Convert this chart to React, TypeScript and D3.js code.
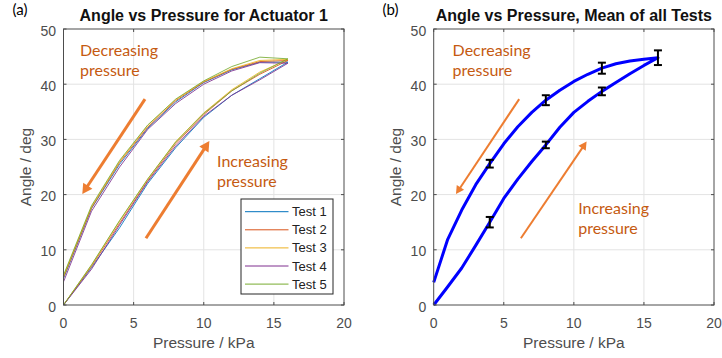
import React from 'react';
import * as d3 from 'd3';

// ---------- data ----------
const pressureSteps = [0, 2, 4, 6, 8, 10, 12, 14, 16];
const testNames = ['Test 1', 'Test 2', 'Test 3', 'Test 4', 'Test 5'];
const testColors = ['#0072BD', '#D95319', '#EDB120', '#7E2F8E', '#77AC30'];
// increasing pressure branch (0..16 kPa)
const test1Inc = [0, 6.8, 14.0, 22.0, 28.5, 34.0, 38.0, 41.0, 44.0];
const test2Inc = [0, 7.0, 14.8, 22.5, 29.2, 34.5, 38.8, 41.8, 44.3];
const test3Inc = [0, 7.2, 15.2, 22.8, 29.6, 34.8, 39.0, 42.2, 44.5];
const test4Inc = [0, 6.5, 14.5, 22.3, 28.8, 34.2, 38.0, 40.8, 43.8];
const test5Inc = [0, 7.3, 15.3, 22.8, 29.5, 34.7, 38.8, 42.0, 44.6];
// decreasing pressure branch (values at 0..14 kPa)
const test1Dec = [4.8, 17.5, 25.5, 32.0, 36.8, 40.3, 42.6, 44.0];
const test2Dec = [5.0, 17.6, 25.8, 32.2, 37.0, 40.4, 42.7, 44.1];
const test3Dec = [5.2, 17.8, 26.0, 32.5, 37.2, 40.5, 42.8, 44.3];
const test4Dec = [4.2, 17.0, 25.0, 31.8, 36.5, 40.0, 42.4, 43.9];
const test5Dec = [5.4, 18.0, 26.2, 32.6, 37.3, 40.6, 43.2, 44.9];

const meanPressure = [0, 1, 2, 3, 4, 5, 6, 7, 8, 9, 10, 11, 12, 13, 14, 15, 16];
const meanInc = [0, 3.3, 6.7, 10.8, 15.0, 19.3, 22.8, 26.0, 29.0, 32.2, 34.9, 36.9, 38.7, 40.3, 41.9, 43.4, 44.8];
const meanDec = [4.1, 11.9, 17.2, 21.8, 25.6, 29.2, 32.3, 34.9, 37.1, 38.9, 40.5, 41.8, 42.9, 43.7, 44.2, 44.5, 44.8];

const errIncPressure = [4, 8, 12, 16];
const errIncMean = [15.0, 29.0, 38.7, 44.8];
const errIncHalf = [0.95, 0.6, 0.7, 1.33];
const errDecPressure = [4, 8, 12];
const errDecMean = [25.6, 37.1, 42.9];
const errDecHalf = [0.7, 0.9, 1.0];

const xTicks = [0, 5, 10, 15, 20];
const yTicks = [0, 10, 20, 30, 40, 50];

const incTests = [test1Inc, test2Inc, test3Inc, test4Inc, test5Inc];
const decTests = [test1Dec, test2Dec, test3Dec, test4Dec, test5Dec];

const ORANGE = '#ED7D31';
const ORANGE_TEXT = '#C55A11';
const AX = '#4d4d4d';
const SANS = 'Liberation Sans, Arial, sans-serif';
const ANNOT = 'Lato, "Open Sans", sans-serif';

type Arrow = { x1: number; y1: number; x2: number; y2: number; w: number; head: number };

function ArrowMark({ a, x, y }: { a: Arrow; x: d3.ScaleLinear<number, number>; y: d3.ScaleLinear<number, number> }) {
  const X1 = x(a.x1), Y1 = y(a.y1), X2 = x(a.x2), Y2 = y(a.y2);
  const dx = X2 - X1, dy = Y2 - Y1;
  const L = Math.hypot(dx, dy);
  const ux = dx / L, uy = dy / L;
  const bx = X2 - ux * a.head, by = Y2 - uy * a.head;
  const hw = a.head * 0.55;
  const pts = [[X2, Y2], [bx - uy * hw, by + ux * hw], [bx + uy * hw, by - ux * hw]];
  return (
    <g>
      <line x1={X1} y1={Y1} x2={bx + ux * 1} y2={by + uy * 1} stroke={ORANGE} strokeWidth={a.w} />
      <polygon points={pts.map(p => p.join(',')).join(' ')} fill={ORANGE} />
    </g>
  );
}

function Panel(props: {
  left: number; right: number; top: number; bottom: number;
  title: string; tag: string; tagX: number;
  children: (x: d3.ScaleLinear<number, number>, y: d3.ScaleLinear<number, number>) => React.ReactNode;
}) {
  const { left, right, top, bottom } = props;
  const x = d3.scaleLinear().domain([0, 20]).range([left, right]);
  const y = d3.scaleLinear().domain([0, 50]).range([bottom, top]);
  const tl = 3;
  return (
    <g>
      <rect x={left} y={top} width={right - left} height={bottom - top} fill="#fff" />
      {xTicks.slice(1, -1).map(t => (
        <line key={'gx' + t} x1={x(t)} x2={x(t)} y1={top} y2={bottom} stroke="#e3e3e3" strokeWidth={1} />
      ))}
      {yTicks.slice(1, -1).map(t => (
        <line key={'gy' + t} x1={left} x2={right} y1={y(t)} y2={y(t)} stroke="#e3e3e3" strokeWidth={1} />
      ))}
      {props.children(x, y)}
      <rect x={left} y={top} width={right - left} height={bottom - top} fill="none" stroke={AX} strokeWidth={1} />
      {xTicks.map(t => (
        <g key={'tx' + t}>
          <line x1={x(t)} x2={x(t)} y1={bottom} y2={bottom - tl} stroke={AX} />
          <line x1={x(t)} x2={x(t)} y1={top} y2={top + tl} stroke={AX} />
          <text x={x(t)} y={bottom + 23} textAnchor="middle" fontSize={14} fill={AX} fontFamily={SANS}>{t}</text>
        </g>
      ))}
      {yTicks.map(t => (
        <g key={'ty' + t}>
          <line x1={left} x2={left + tl} y1={y(t)} y2={y(t)} stroke={AX} />
          <line x1={right} x2={right - tl} y1={y(t)} y2={y(t)} stroke={AX} />
          <text x={left - 7.5} y={y(t) + 6.5} textAnchor="end" fontSize={14} fill={AX} fontFamily={SANS}>{t}</text>
        </g>
      ))}
      <text x={(left + right) / 2} y={bottom + 43} textAnchor="middle" fontSize={15.5} fill={AX} fontFamily={SANS}>Pressure / kPa</text>
      <text transform={`translate(${left - 33},${(top + bottom) / 2}) rotate(-90)`} textAnchor="middle" fontSize={15.5} fill={AX} fontFamily={SANS}>Angle / deg</text>
      <text x={(left + right) / 2} y={20.5} textAnchor="middle" fontSize={16} fontWeight="bold" fill="#111" fontFamily={SANS}>{props.title}</text>
      <text x={props.tagX} y={15} fontSize={15} fill="#000" fontFamily={ANNOT}>{props.tag}</text>
    </g>
  );
}

function Annot({ x, y, px, py, l1, l2 }: { x: d3.ScaleLinear<number, number>; y: d3.ScaleLinear<number, number>; px: number; py: number; l1: string; l2: string }) {
  return (
    <text fontSize={16} fill={ORANGE_TEXT} fontFamily={ANNOT}>
      <tspan x={x(px)} y={y(py)}>{l1}</tspan>
      <tspan x={x(px)} y={y(py) + 20}>{l2}</tspan>
    </text>
  );
}

export default function App() {
  const top = 29, bottom = 305;
  return (
    <svg width={722} height={358} style={{ position: 'absolute', left: 0, top: 0, background: '#fff' }}>
      <Panel left={63.5} right={344} top={top} bottom={bottom} title="Angle vs Pressure for Actuator 1" tag="(a)" tagX={12.5}>
        {(x, y) => {
          const line = d3.line<[number, number]>().x(d => x(d[0])).y(d => y(d[1]));
          return (
            <g>
              {incTests.map((inc, i) => {
                const pts: [number, number][] = pressureSteps.map((p, j) => [p, inc[j]]);
                const dec = decTests[i];
                for (let j = dec.length - 1; j >= 0; j--) pts.push([pressureSteps[j], dec[j]]);
                return <path key={i} d={line(pts) || ''} fill="none" stroke={testColors[i]} strokeWidth={1} strokeOpacity={0.85} />;
              })}
              <Annot x={x} y={y} px={1.18} py={45.1} l1="Decreasing" l2="pressure" />
              <Annot x={x} y={y} px={10.95} py={25.05} l1="Increasing" l2="pressure" />
              <ArrowMark x={x} y={y} a={{ x1: 5.81, y1: 37.3, x2: 1.34, y2: 20.1, w: 3, head: 10 }} />
              <ArrowMark x={x} y={y} a={{ x1: 5.88, y1: 12.1, x2: 10.4, y2: 29.7, w: 3, head: 10 }} />
              <g>
                <rect x={241} y={199} width={92} height={95} fill="#fff" stroke="#262626" strokeWidth={1} />
                {testNames.map((n, i) => (
                  <g key={n}>
                    <line x1={245} x2={288.5} y1={211.7 + i * 18.1} y2={211.7 + i * 18.1} stroke={testColors[i]} strokeWidth={1} />
                    <text x={292} y={211.7 + i * 18.1 + 4.5} fontSize={13} fill="#222" fontFamily={SANS}>{n}</text>
                  </g>
                ))}
              </g>
            </g>
          );
        }}
      </Panel>
      <Panel left={433.7} right={714} top={top} bottom={bottom} title="Angle vs Pressure, Mean of all Tests" tag="(b)" tagX={382.5}>
        {(x, y) => {
          const line = d3.line<[number, number]>().x(d => x(d[0])).y(d => y(d[1]));
          const pts: [number, number][] = meanPressure.map((p, j) => [p, meanInc[j]]);
          for (let j = meanDec.length - 2; j >= 0; j--) pts.push([meanPressure[j], meanDec[j]]);
          const cap = 4;
          const bars = [
            ...errIncPressure.map((p, j) => ({ p, m: errIncMean[j], h: errIncHalf[j] })),
            ...errDecPressure.map((p, j) => ({ p, m: errDecMean[j], h: errDecHalf[j] })),
          ];
          return (
            <g>
              <path d={line(pts) || ''} fill="none" stroke="#0000FF" strokeWidth={3} strokeLinejoin="round" />
              {bars.map((b, i) => (
                <g key={i} stroke="#000" strokeWidth={2}>
                  <line x1={x(b.p)} x2={x(b.p)} y1={y(b.m - b.h)} y2={y(b.m + b.h)} />
                  <line x1={x(b.p) - cap} x2={x(b.p) + cap} y1={y(b.m - b.h)} y2={y(b.m - b.h)} />
                  <line x1={x(b.p) - cap} x2={x(b.p) + cap} y1={y(b.m + b.h)} y2={y(b.m + b.h)} />
                </g>
              ))}
              <Annot x={x} y={y} px={1.35} py={45.1} l1="Decreasing" l2="pressure" />
              <Annot x={x} y={y} px={10.31} py={16.5} l1="Increasing" l2="pressure" />
              <ArrowMark x={x} y={y} a={{ x1: 6.10, y1: 37.3, x2: 1.59, y2: 20.1, w: 2, head: 8 }} />
              <ArrowMark x={x} y={y} a={{ x1: 6.22, y1: 12.1, x2: 10.91, y2: 29.6, w: 2, head: 8 }} />
            </g>
          );
        }}
      </Panel>
    </svg>
  );
}
